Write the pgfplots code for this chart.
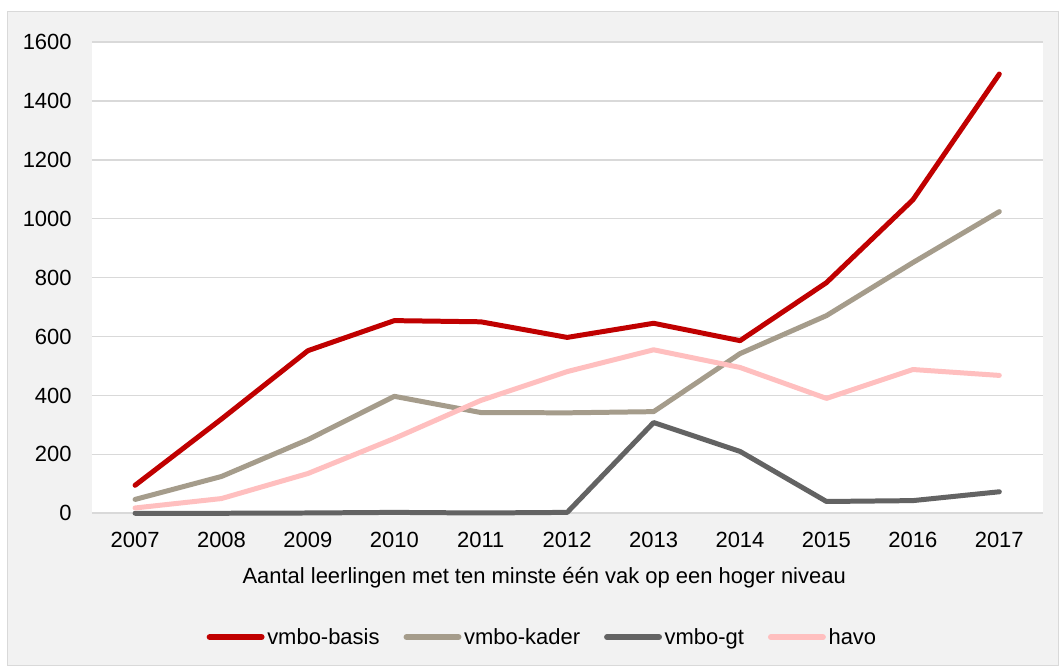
\documentclass[border=0pt]{standalone}
\usepackage{pgfplots}
\pgfplotsset{compat=1.18}
\usepackage{fontspec}
\setmainfont{Liberation Sans}
\definecolor{cbasis}{HTML}{C00000}
\definecolor{ckader}{HTML}{A59C8B}
\definecolor{cgt}{HTML}{636363}
\definecolor{chavo}{HTML}{FFBFBF}
\definecolor{cgrid}{HTML}{D9D9D9}
\definecolor{cbg}{HTML}{F2F2F2}
\begin{document}
\begin{tikzpicture}
\path[fill=white] (0,0) rectangle (794.25pt,498.75pt);
\filldraw[fill=cbg, draw=cgrid, line width=0.75pt] (6pt,-1pt) rectangle (795pt,489.75pt);
\begin{axis}[
  at={(69pt,113.25pt)}, anchor=south west,
  scale only axis, width=714pt, height=354pt,
  xmin=2006.5, xmax=2017.5, ymin=0, ymax=1600,
  xtick={2007,...,2017}, ytick={0,200,...,1600},
  axis background/.style={fill=white},
  axis line style={draw=none},
  major tick length=0pt,
  ymajorgrids, major grid style={cgrid, line width=1.2pt},
  clip=false,
  font=\fontsize{16.5pt}{19pt}\selectfont,
  /pgf/number format/assume math mode=true,
  /pgf/number format/.cd, set thousands separator={}, 1000 sep={},
  /pgfplots/.cd,
  xticklabel style={anchor=base, inner sep=0pt, yshift=-25.5pt},
  yticklabel style={anchor=east, inner sep=0pt, xshift=-15pt},
  xlabel={Aantal leerlingen met ten minste één vak op een hoger niveau},
  xlabel style={at={(axis description cs:0.4758,-0.1356)}, anchor=center},
  legend columns=4,
  legend style={at={(axis description cs:0.4743,-0.2627)}, anchor=center,
    draw=none, fill=none, font=\fontsize{16.5pt}{19pt}\selectfont,
    /tikz/every even column/.append style={column sep=16pt},
    inner sep=0pt},
  legend image code/.code={\draw[#1, line width=4.5pt, line cap=round] (0pt,0pt) -- (39pt,0pt);},
  every axis plot/.append style={line width=3.75pt, line cap=round, line join=round, mark=none},
]
\addplot[cbasis] coordinates {(2007,95) (2008,320) (2009,552) (2010,654) (2011,650) (2012,597) (2013,645) (2014,586) (2015,783) (2016,1064) (2017,1491)};
\addlegendentry{vmbo-basis}
\addplot[ckader] coordinates {(2007,47) (2008,125) (2009,250) (2010,397) (2011,342) (2012,341) (2013,345) (2014,542) (2015,671) (2016,851) (2017,1024)};
\addlegendentry{vmbo-kader}
\addplot[cgt] coordinates {(2007,0) (2008,0) (2009,1) (2010,3) (2011,1) (2012,3) (2013,308) (2014,210) (2015,40) (2016,43) (2017,73)};
\addlegendentry{vmbo-gt}
\addplot[chavo] coordinates {(2007,18) (2008,50) (2009,135) (2010,254) (2011,383) (2012,481) (2013,555) (2014,495) (2015,390) (2016,488) (2017,468)};
\addlegendentry{havo}
\end{axis}
\end{tikzpicture}
\end{document}
